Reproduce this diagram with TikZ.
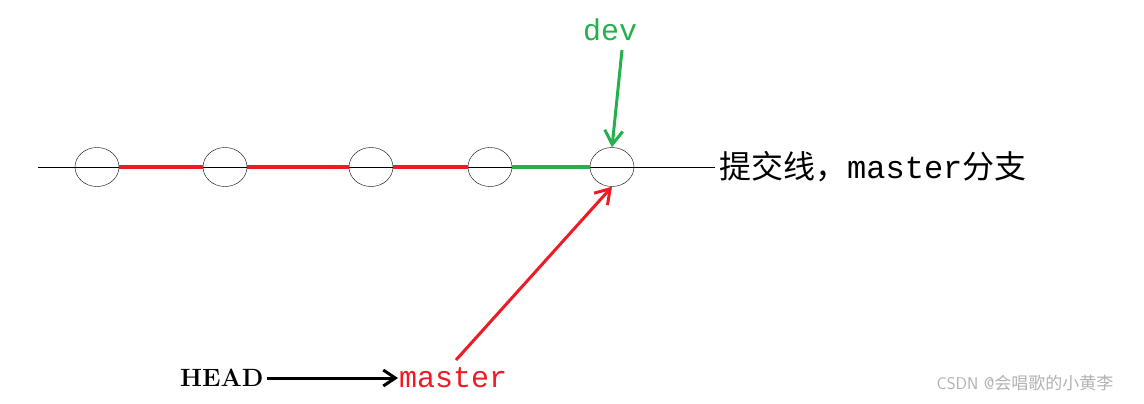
\documentclass[tikz,border=0pt]{standalone}
\usepackage{fontspec}
\setmonofont{Liberation Mono}
\newfontfamily\cjk{Noto Sans CJK SC}
\usetikzlibrary{positioning}
\definecolor{gitred}{RGB}{237,28,36}
\definecolor{gitgreen}{RGB}{34,177,76}
\tikzset{
  commit/.style={draw,ellipse,minimum width=44pt,minimum height=39pt,inner sep=0pt},
  label/.style={font=\ttfamily\fontsize{30}{30}\selectfont,inner sep=1pt},
  pointer/.style={line width=3pt}
}
\usepackage{tikz}
\usetikzlibrary{shapes.geometric,arrows.meta}
\begin{document}
\begin{tikzpicture}[x=1pt,y=-1pt]
\useasboundingbox (0,0) rectangle (1144,404);
% commits on the line
\draw (38,167) coordinate (start) -- (715,167) coordinate (stop);
\node[commit] (c1) at (97,167) {};
\node[commit] (c2) at (225,167) {};
\node[commit] (c3) at (371,167) {};
\node[commit] (c4) at (490,167) {};
\node[commit] (c5) at (612,167) {};
\draw[gitred,line width=4pt] (c1.east) -- (c2.west) (c2.east) -- (c3.west) (c3.east) -- (c4.west);
\draw[gitgreen,line width=4pt] (c4.east) -- (c5.west);
\node[anchor=west,inner sep=0pt,font=\fontsize{32}{32}\selectfont] (line) at (719,167) {{\cjk 提交线，}\texttt{master}{\cjk 分支}};
% pointers
\node[label,text=gitgreen] (dev) at (610,30) {dev};
\node[label,text=gitred,anchor=west] (master) at (398,378) {master};
\node[font=\bfseries\fontsize{25}{25}\selectfont,anchor=east] (head) at (267,378) {HEAD};
\draw[pointer,gitgreen,-{Straight Barb[length=14pt,width=18pt]}] (622,50) -- (c5.north);
\draw[pointer,gitred,-{Straight Barb[length=14pt,width=18pt]}] (456,360) -- (c5.south);
\draw[pointer,-{Straight Barb[length=12pt,width=16pt]}] (head) -- (master);
\node[text=black!30,font=\fontsize{17}{17}\selectfont\sffamily] (mark) at (1025,383) {CSDN @{\cjk 会唱歌的小黄李}};
\end{tikzpicture}
\end{document}
